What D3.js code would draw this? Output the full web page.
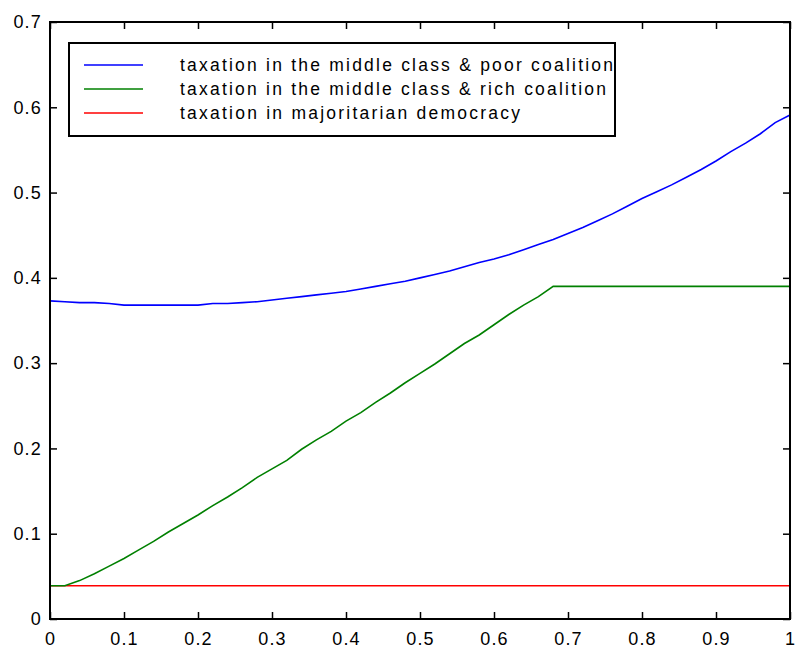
<!DOCTYPE html>
<html>
<head>
<meta charset="utf-8">
<script src="https://cdn.jsdelivr.net/npm/d3@7"></script>
<style>
  html, body { margin: 0; padding: 0; background: #fff; }
  svg { display: block; }
  text { font-family: "Liberation Sans", Arial, Helvetica, sans-serif; fill: #000; }
</style>
</head>
<body>
<svg id="chart" width="797" height="652"></svg>
<script>
// Share of the middle class on the horizontal axis, sampled every 0.02
const shares = d3.range(51).map(i => +(i * 0.02).toFixed(2));

// Tax rate chosen by the middle class & poor coalition
const poorCoalition = [
  0.373, 0.372, 0.371, 0.371, 0.370, 0.368, 0.368, 0.368, 0.368, 0.368,
  0.368, 0.370, 0.370, 0.371, 0.372, 0.374, 0.376, 0.378, 0.380, 0.382,
  0.384, 0.387, 0.390, 0.393, 0.396, 0.400, 0.404, 0.408, 0.413, 0.418,
  0.422, 0.427, 0.433, 0.439, 0.445, 0.452, 0.459, 0.467, 0.475, 0.484,
  0.493, 0.501, 0.509, 0.518, 0.527, 0.537, 0.548, 0.558, 0.569, 0.582,
  0.591
];

// Tax rate chosen by the middle class & rich coalition
const richCoalition = [
  0.039, 0.039, 0.045, 0.053, 0.062, 0.071, 0.081, 0.091, 0.102, 0.112,
  0.122, 0.133, 0.143, 0.154, 0.166, 0.176, 0.186, 0.199, 0.210, 0.220,
  0.232, 0.242, 0.254, 0.265, 0.277, 0.288, 0.299, 0.311, 0.323, 0.333,
  0.345, 0.357, 0.368, 0.378, 0.390, 0.390, 0.390, 0.390, 0.390, 0.390,
  0.390, 0.390, 0.390, 0.390, 0.390, 0.390, 0.390, 0.390, 0.390, 0.390,
  0.390
];

// Tax rate under majoritarian democracy
const majoritarian = shares.map(() => 0.039);

const seriesNames = [
  "taxation in the middle class & poor coalition",
  "taxation in the middle class & rich coalition",
  "taxation in majoritarian democracy"
];
const seriesColors = ["#0000ff", "#008000", "#ff0000"];

const xTicks = [0, 0.1, 0.2, 0.3, 0.4, 0.5, 0.6, 0.7, 0.8, 0.9, 1];
const yTicks = [0, 0.1, 0.2, 0.3, 0.4, 0.5, 0.6, 0.7];

const margin = { left: 50, right: 7, top: 22, bottom: 33 };
const W = 797, H = 652;
const iw = W - margin.left - margin.right;
const ih = H - margin.top - margin.bottom;

const svg = d3.select("#chart");
const g = svg.append("g").attr("transform", `translate(${margin.left},${margin.top})`);

const x = d3.scaleLinear().domain([0, 1]).range([0, iw]);
const y = d3.scaleLinear().domain([0, 0.7]).range([ih, 0]);

const fmt = d => d === 0 ? "0" : (d === 1 ? "1" : d3.format(".1f")(d));
const tickLen = 7;

function styleAxis(sel, showLabels) {
  sel.select(".domain").remove();
  sel.selectAll(".tick line").attr("stroke", "#000").attr("stroke-width", 1.5);
  sel.selectAll(".tick text")
    .style("font-size", "18px")
    .style("letter-spacing", "1.2px")
    .attr("fill", "#000");
  if (!showLabels) sel.selectAll(".tick text").remove();
}

g.append("g").attr("transform", `translate(0,${ih})`)
  .call(d3.axisBottom(x).tickValues(xTicks).tickFormat(fmt).tickSizeInner(-tickLen).tickSizeOuter(0).tickPadding(13))
  .call(s => styleAxis(s, true));
g.append("g")
  .call(d3.axisTop(x).tickValues(xTicks).tickSizeInner(-tickLen).tickSizeOuter(0))
  .call(s => styleAxis(s, false));
g.append("g")
  .call(d3.axisLeft(y).tickValues(yTicks).tickFormat(fmt).tickSizeInner(-tickLen).tickSizeOuter(0).tickPadding(8))
  .call(s => styleAxis(s, true));
g.append("g").attr("transform", `translate(${iw},0)`)
  .call(d3.axisRight(y).tickValues(yTicks).tickSizeInner(-tickLen).tickSizeOuter(0))
  .call(s => styleAxis(s, false));

// Data lines
const line = d3.line().x((d, i) => x(shares[i])).y(d => y(d));
const allSeries = [poorCoalition, richCoalition, majoritarian];
// draw red first so the green start sits on top of it
[2, 1, 0].forEach(k => {
  g.append("path")
    .datum(allSeries[k])
    .attr("fill", "none")
    .attr("stroke", seriesColors[k])
    .attr("stroke-width", 1.6)
    .attr("d", line);
});

// Plot frame
g.append("rect")
  .attr("x", 0).attr("y", 0).attr("width", iw).attr("height", ih)
  .attr("fill", "none").attr("stroke", "#000").attr("stroke-width", 2);

// Legend
const legend = svg.append("g").attr("transform", "translate(69,43)");
legend.append("rect")
  .attr("x", 0).attr("y", 0).attr("width", 546).attr("height", 93)
  .attr("fill", "#fff").attr("stroke", "#000").attr("stroke-width", 2);
const legendTextWidths = [433, 426, 340];
seriesNames.forEach((name, k) => {
  const cy = 22 + k * 24;
  legend.append("line")
    .attr("x1", 15).attr("x2", 74).attr("y1", cy).attr("y2", cy)
    .attr("stroke", seriesColors[k]).attr("stroke-width", 1.5);
  legend.append("text")
    .attr("x", 111).attr("y", cy + 6)
    .attr("textLength", legendTextWidths[k])
    .attr("lengthAdjust", "spacing")
    .style("font-size", "17.5px")
    .text(name);
});
</script>
</body>
</html>
